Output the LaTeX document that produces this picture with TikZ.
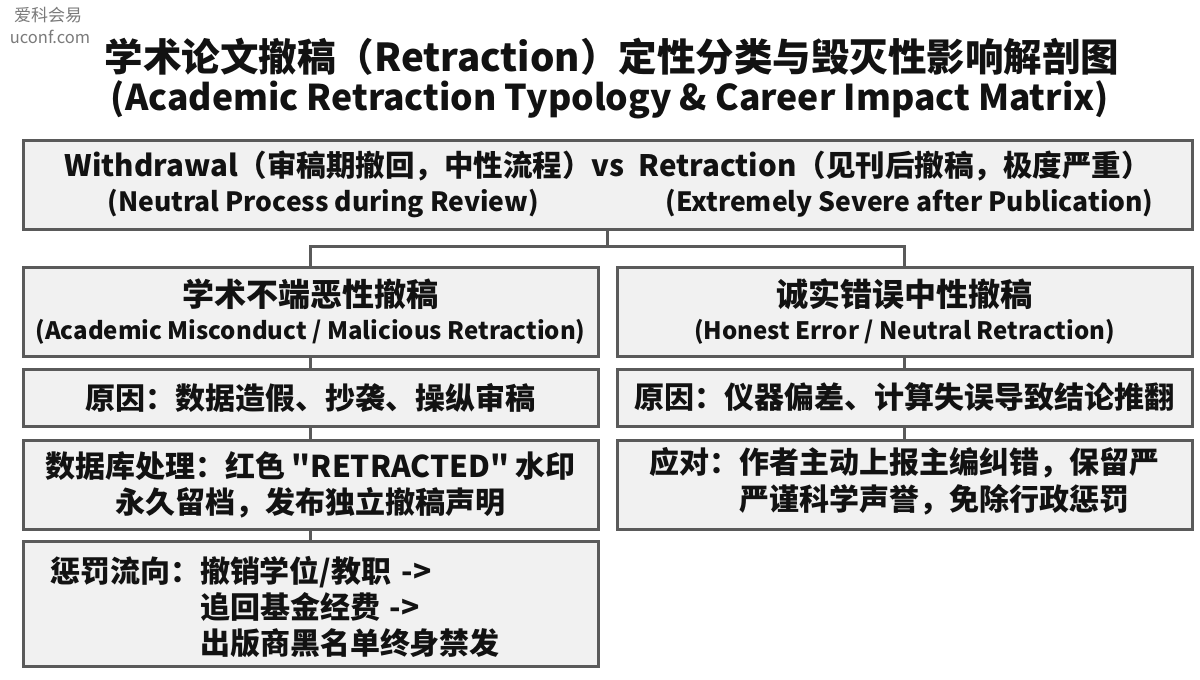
\documentclass[tikz,border=0pt]{standalone}
\usepackage{fontspec}
\setmainfont{Noto Sans CJK SC}[Ligatures=TeXOff]
\usetikzlibrary{positioning}
\definecolor{cellfill}{HTML}{F1F1F1}
\definecolor{cellline}{HTML}{5A5A5A}
\definecolor{inkdark}{HTML}{121212}
\definecolor{markgray}{HTML}{7A7A7A}

\tikzset{
  cellbox/.style={draw=cellline, line width=3pt, fill=cellfill, inner sep=0pt,
    text=inkdark, align=center, minimum width=575pt},
  busline/.style={draw=cellline, line width=3pt},
  bigfont/.style={font=\bfseries\fontsize{30}{36}\selectfont},
}

\begin{document}
\begin{tikzpicture}[x=1pt,y=-1pt]
\useasboundingbox[fill=white] (0,0) rectangle (1200,680);

\node[text=markgray, font=\fontsize{17}{18}\selectfont] (markcn) at (48,15) {爱科会易};
\node[text=markgray, font=\fontsize{16.5}{18}\selectfont] (markurl) at (50,37) {uconf.com};

\node[text=inkdark, font=\bfseries\fontsize{38.5}{40}\selectfont] (title) at (612,57)
  {学术论文撤稿（Retraction）定性分类与毁灭性影响解剖图};
\node[text=inkdark, font=\bfseries\fontsize{35.5}{36}\selectfont] (subtitle) at (610,100)
  {(Academic Retraction Typology \& Career Impact Matrix)};

\node[cellbox, minimum width=1169pt, minimum height=89pt] (top) at (607.5,184.5)
  {{\bfseries\fontsize{29.5}{36}\selectfont Withdrawal（审稿期撤回，中性流程）vs\hspace{14pt}Retraction（见刊后撤稿，极度严重）}\\[7pt]
   {\bfseries\fontsize{26.5}{30}\selectfont\makebox[1092pt]{\hspace{46pt}(Neutral Process during Review)\hfill(Extremely Severe after Publication)}}};

\node[cellbox, minimum height=89pt] (lhead) at (310.5,311.5)
  {{\bfseries\fontsize{32}{36}\selectfont 学术不端恶性撤稿}\\[8pt]
   {\bfseries\fontsize{24}{30}\selectfont (Academic Misconduct / Malicious Retraction)}};
\node[cellbox, minimum height=89pt] (rhead) at (904.5,311.5)
  {{\bfseries\fontsize{32}{36}\selectfont 诚实错误中性撤稿}\\[8pt]
   {\bfseries\fontsize{24}{30}\selectfont (Honest Error / Neutral Retraction)}};

\node[cellbox, bigfont, minimum height=57pt] (lcause) at (310.5,397.5)
  {原因：数据造假、抄袭、操纵审稿};
\node[cellbox, bigfont, minimum height=57pt] (rcause) at (904.5,397.5)
  {原因：仪器偏差、计算失误导致结论推翻};

\node[cellbox, bigfont, minimum height=89pt] (ldb) at (310.5,484.5)
  {数据库处理：红色 "RETRACTED" 水印\\永久留档，发布独立撤稿声明};
\node[cellbox, bigfont, minimum height=89pt] (rfix) at (904.5,484.5)
  {\begin{tabular}{@{}l@{}l@{}}应对：&作者主动上报主编纠错，保留严\\ &严谨科学声誉，免除行政惩罚\end{tabular}};

\node[cellbox, font=\bfseries\fontsize{30}{34.5}\selectfont, minimum height=125pt,
  inner xsep=27pt, text width=521pt, align=left] (lpunish) at (310.5,603.5)
  {\begin{tabular}{@{}l@{}l@{}}\rule{0pt}{40pt}惩罚流向：&撤销学位/教职 ->\\ &追回基金经费 ->\\ &出版商黑名单终身禁发\end{tabular}};

\draw[busline] (top.south) -- +(0,16) coordinate (bus);
\draw[busline] (lhead.north) |- (bus) -| (rhead.north);
\draw[busline] (lhead.south) -- (lcause.north);
\draw[busline] (lcause.south) -- (ldb.north);
\draw[busline] (ldb.south) -- (lpunish.north);
\draw[busline] (rhead.south) -- (rcause.north);
\draw[busline] (rcause.south) -- (rfix.north);
\end{tikzpicture}
\end{document}
